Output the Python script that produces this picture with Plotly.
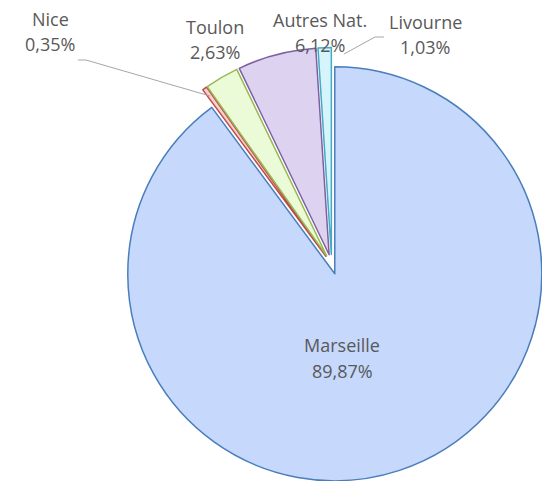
import plotly.graph_objects as go

labels = ["Marseille", "Nice", "Toulon", "Autres Nat.", "Livourne"]
values = [89.87, 0.35, 2.63, 6.12, 1.03]
fill_colors = ["#c6d8fc", "#f8d0cf", "#ebfbd8", "#ddd2ef", "#d6f4fc"]
line_colors = ["#4a7ebb", "#be4b48", "#98b954", "#7d60a0", "#46aac5"]
pulls = [0.048, 0.048, 0.048, 0.048, 0.048]

def fmt(v):
    return f"{v:.2f}".replace(".", ",") + "%"

fig = go.Figure(go.Pie(
    labels=labels,
    values=values,
    sort=False,
    direction="clockwise",
    rotation=0,
    pull=pulls,
    textinfo="none",
    hoverinfo="label+percent",
    marker=dict(colors=fill_colors, line=dict(color=line_colors, width=1.5)),
    domain=dict(x=[0.194, 0.983], y=[0.016, 0.918]),
    showlegend=False,
))

font = dict(family="Open Sans, Liberation Sans, sans-serif", size=18, color="#595959")
# (x center, y of name line, y of percent line) in pixels
label_pos = {
    "Marseille": (334, 337, 363),
    "Nice": (42, 11, 36),
    "Toulon": (207, 19, 44),
    "Autres Nat.": (312, 12, 37),
    "Livourne": (417, 14, 39),
}
annotations = []
for lab, v in zip(labels, values):
    x, y1, y2 = label_pos[lab]
    for txt, y in ((lab, y1), (fmt(v), y2)):
        annotations.append(dict(
            x=x / 550, y=1 - y / 481, xref="paper", yref="paper",
            text=txt, showarrow=False, font=font,
            xanchor="center", yanchor="middle", align="center",
        ))

shapes = [
    dict(type="path", xref="paper", yref="paper",
         path=f"M {70/550} {1-52/481} L {78/550} {1-52/481} L {202/550} {1-88/481}",
         line=dict(color="#a6a6a6", width=1)),
    dict(type="path", xref="paper", yref="paper",
         path=f"M {376/550} {1-29/481} L {367/550} {1-29/481} L {336/550} {1-46/481}",
         line=dict(color="#a6a6a6", width=1)),
]

fig.update_layout(
    width=550, height=481,
    margin=dict(l=0, r=0, t=0, b=0),
    paper_bgcolor="white", plot_bgcolor="white",
    annotations=annotations,
    shapes=shapes,
)

fig.write_html("out.html")
